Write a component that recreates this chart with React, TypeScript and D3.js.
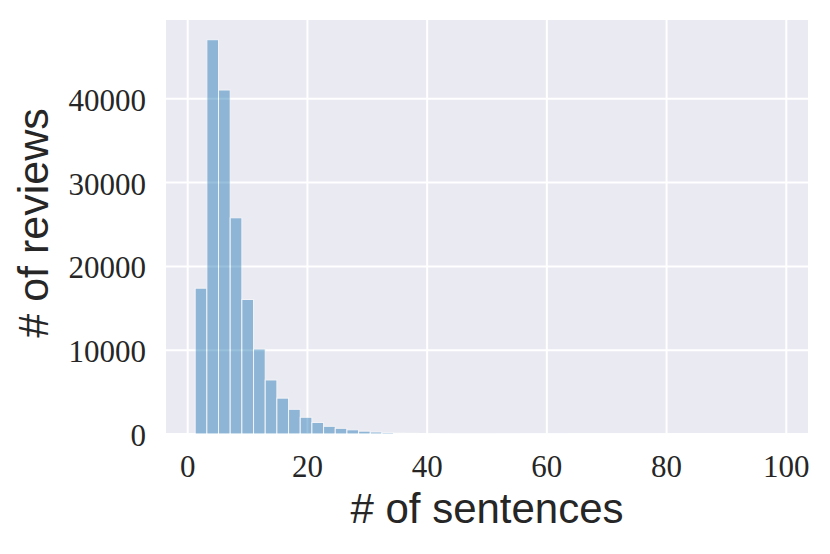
import React from "react";
import * as d3 from "d3";

// Histogram of number of sentences per review (50 bins)
const binStart = 1.25;
const binWidth = 1.95;
const counts: number[] = [
  17400, 47050, 41050, 25800, 16050, 10150, 6450, 4280, 2950, 2000,
  1380, 920, 680, 500, 340, 240, 170, 120, 90, 70,
  55, 45, 35, 28, 22, 18, 15, 12, 10, 8,
  7, 6, 5, 4, 4, 3, 3, 2, 2, 2,
  2, 1, 1, 1, 1, 1, 1, 1, 1, 1,
];
const xTicks: number[] = [0, 20, 40, 60, 80, 100];
const yTicks: number[] = [0, 10000, 20000, 30000, 40000];
const xLabel = "# of sentences";
const yLabel = "# of reviews";

const W = 830;
const H = 554;
const plot = { left: 166, right: 808, top: 20, bottom: 434 };

export default function App() {
  const nBins = counts.length;
  const dataMin = binStart;
  const dataMax = binStart + binWidth * nBins;
  const pad = (dataMax - dataMin) * 0.05;
  const x = d3.scaleLinear().domain([dataMin - pad, dataMax + pad]).range([plot.left, plot.right]);
  const yMax = (d3.max(counts) as number) * 1.05;
  const y = d3.scaleLinear().domain([0, yMax]).range([plot.bottom, plot.top]);

  const bins = counts.map((c, i) => ({ x0: binStart + i * binWidth, x1: binStart + (i + 1) * binWidth, c }));
  const textColor = "#262626";
  const serif = "'Liberation Serif', 'DejaVu Serif', serif";
  const sans = "'Liberation Sans', 'DejaVu Sans', sans-serif";

  return (
    <svg width={W} height={H} style={{ position: "fixed", left: 0, top: 0, background: "#fff" }}>
      <rect x={plot.left} y={plot.top} width={plot.right - plot.left} height={plot.bottom - plot.top} fill="#EAEAF2" />
      {xTicks.map((t) => (
        <line key={"gx" + t} x1={x(t)} x2={x(t)} y1={plot.top} y2={plot.bottom} stroke="#fff" strokeWidth={2} />
      ))}
      {yTicks.map((t) => (
        <line key={"gy" + t} x1={plot.left} x2={plot.right} y1={y(t)} y2={y(t)} stroke="#fff" strokeWidth={2} />
      ))}
      <g opacity={0.45}>
        {bins.map((b, i) => (
          <rect
            key={i}
            x={x(b.x0)}
            y={y(b.c)}
            width={x(b.x1) - x(b.x0)}
            height={plot.bottom - y(b.c)}
            fill="#1f77b4"
            stroke="#ffffff"
            strokeWidth={1}
          />
        ))}
      </g>
      {xTicks.map((t) => (
        <text key={"tx" + t} x={x(t)} y={477} textAnchor="middle" fontFamily={serif} fontSize={31} fill={textColor}>
          {t}
        </text>
      ))}
      {yTicks.map((t) => (
        <text key={"ty" + t} x={146} y={y(t) + 12} textAnchor="end" fontFamily={serif} fontSize={31} fill={textColor}>
          {t}
        </text>
      ))}
      <text x={(plot.left + plot.right) / 2} y={523} textAnchor="middle" fontFamily={sans} fontSize={42} fill={textColor}>
        {xLabel}
      </text>
      <text
        transform={`translate(48, ${(plot.top + plot.bottom) / 2 - 4}) rotate(-90)`}
        textAnchor="middle"
        fontFamily={sans}
        fontSize={43}
        fill={textColor}
      >
        {yLabel}
      </text>
    </svg>
  );
}
